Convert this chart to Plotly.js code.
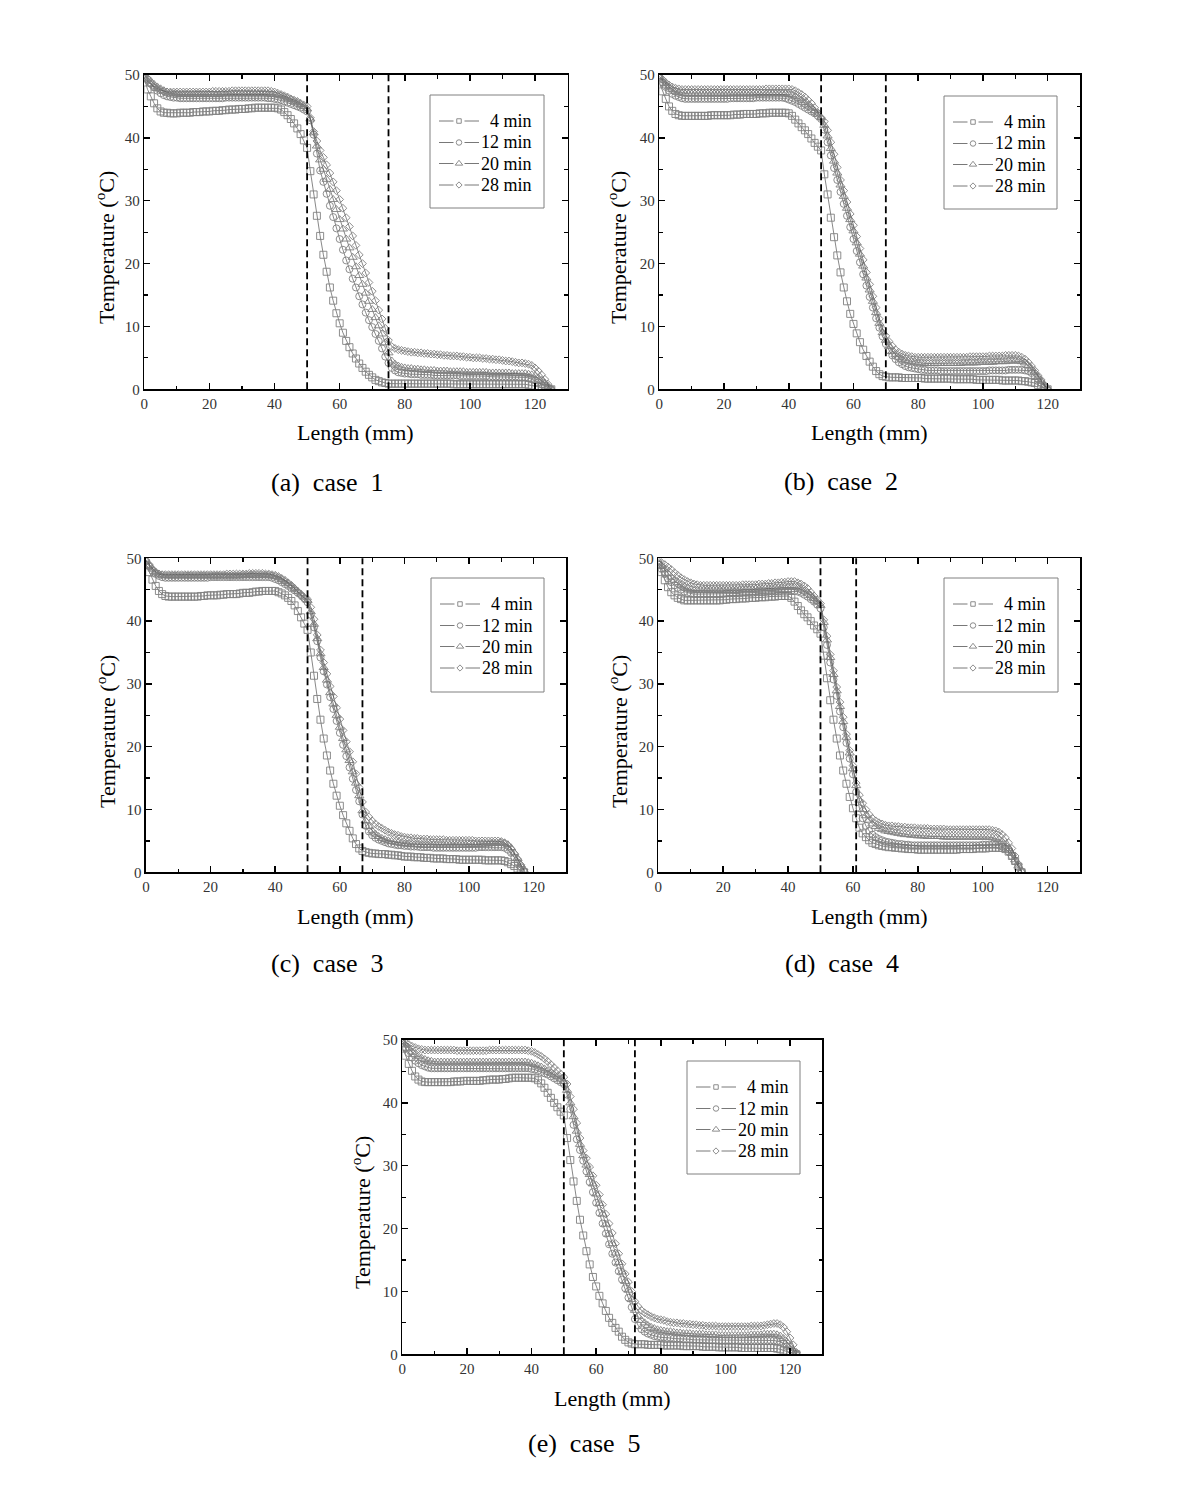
<!DOCTYPE html>
<html><head><meta charset="utf-8">
<script src="https://cdn.plot.ly/plotly-3.0.1.min.js"></script>
<style>html,body{margin:0;padding:0;background:#fff}#chart{width:1202px;height:1493px}</style>
</head><body><div id="chart"></div>
<script>
const seriesNames = ["4 min", "12 min", "20 min", "28 min"];
const captions = ["(a)\u00a0\u00a0case\u00a0\u00a01", "(b)\u00a0\u00a0case\u00a0\u00a02", "(c)\u00a0\u00a0case\u00a0\u00a03", "(d)\u00a0\u00a0case\u00a0\u00a04", "(e)\u00a0\u00a0case\u00a0\u00a05"];
const interfaceLines = [[50, 75], [50, 70], [50, 67], [50, 61], [50, 72]];
const xTitle = "Length (mm)";
const yTitle = "Temperature (<sup>o</sup>C)";

// ---- case 1 (x = 0..125 mm, 1 mm step) ----
const case1_4min = [
49.5,47.7,46.6,45.5,44.7,44.2,44.0,44.0,43.9,43.9,
43.9,44.0,44.0,44.0,44.0,44.1,44.1,44.1,44.2,44.2,
44.2,44.3,44.3,44.3,44.4,44.4,44.5,44.5,44.5,44.6,
44.6,44.6,44.7,44.7,44.8,44.8,44.8,44.8,44.8,44.8,
44.8,44.7,44.5,44.1,43.6,43.0,42.3,41.5,40.6,39.6,
38.4,34.7,31.0,27.6,24.4,21.4,18.7,16.2,14.1,12.1,
10.5,9.0,7.7,6.7,5.7,4.9,4.1,3.4,2.8,2.3,
1.9,1.5,1.3,1.1,1.0,0.9,0.9,0.9,0.9,0.9,
0.9,0.9,0.9,0.9,0.9,0.9,0.9,0.9,0.9,0.9,
0.9,0.9,0.9,0.9,0.9,0.8,0.8,0.8,0.8,0.8,
0.8,0.8,0.8,0.8,0.8,0.8,0.8,0.8,0.8,0.8,
0.8,0.8,0.8,0.8,0.8,0.8,0.8,0.8,0.7,0.6,
0.5,0.4,0.3,0.2,0.1,0.0];
const case1_12min = [
50.0,49.3,48.6,48.0,47.5,47.1,46.8,46.6,46.5,46.4,
46.4,46.3,46.3,46.3,46.3,46.3,46.3,46.3,46.3,46.3,
46.3,46.3,46.3,46.3,46.3,46.4,46.4,46.4,46.4,46.4,
46.4,46.4,46.4,46.4,46.4,46.4,46.4,46.4,46.3,46.3,
46.2,46.1,46.0,45.8,45.6,45.4,45.2,45.0,44.8,44.5,
44.2,42.8,40.5,37.5,34.8,33.0,31.1,29.2,27.4,25.6,
23.9,22.2,20.5,19.1,17.6,16.2,14.8,13.5,12.2,11.0,
9.9,8.8,7.7,6.5,5.2,4.2,3.4,3.0,2.7,2.6,
2.5,2.5,2.4,2.4,2.4,2.3,2.3,2.3,2.3,2.2,
2.2,2.2,2.2,2.2,2.2,2.2,2.2,2.1,2.1,2.1,
2.1,2.1,2.1,2.1,2.1,2.1,2.0,2.0,2.0,2.0,
2.0,2.0,2.0,2.0,2.0,1.9,1.9,1.9,1.8,1.6,
1.4,1.1,0.8,0.5,0.2,0.0];
const case1_20min = [
50.0,49.5,49.0,48.5,48.1,47.8,47.5,47.3,47.1,47.0,
47.0,46.9,46.9,46.9,46.9,46.9,46.9,46.9,46.9,46.9,
46.9,46.9,46.9,46.9,47.0,47.0,47.0,47.0,47.0,47.0,
47.0,47.0,47.0,47.0,47.0,47.0,47.0,47.0,47.0,46.9,
46.9,46.8,46.7,46.5,46.3,46.1,45.8,45.6,45.3,45.0,
44.6,43.0,40.8,38.7,36.5,35.0,33.4,31.8,30.2,28.6,
27.0,25.5,23.9,22.5,21.0,19.5,18.1,16.7,15.3,14.0,
12.7,11.4,10.1,8.8,7.4,5.8,4.5,4.0,3.7,3.5,
3.4,3.3,3.3,3.2,3.2,3.1,3.1,3.0,3.0,3.0,
2.9,2.9,2.9,2.9,2.8,2.8,2.8,2.8,2.8,2.7,
2.7,2.7,2.7,2.7,2.7,2.7,2.6,2.6,2.6,2.6,
2.6,2.6,2.6,2.5,2.5,2.5,2.5,2.5,2.4,2.3,
2.1,1.8,1.4,1.0,0.5,0.0];
const case1_28min = [
49.5,49.0,48.5,48.1,47.8,47.6,47.4,47.3,47.3,47.3,
47.3,47.3,47.3,47.3,47.3,47.3,47.3,47.3,47.3,47.3,
47.3,47.4,47.4,47.4,47.4,47.4,47.4,47.5,47.5,47.5,
47.5,47.5,47.5,47.5,47.5,47.5,47.5,47.5,47.5,47.4,
47.3,47.1,46.9,46.7,46.5,46.2,46.0,45.8,45.5,45.2,
45.0,43.2,41.0,39.5,38.0,36.9,35.7,34.4,33.0,31.6,
30.2,28.8,27.3,25.9,24.4,22.9,21.4,20.0,18.5,17.0,
15.6,14.1,12.6,11.2,9.7,7.8,6.8,6.5,6.3,6.2,
6.1,6.0,5.9,5.9,5.8,5.8,5.7,5.7,5.6,5.6,
5.5,5.5,5.4,5.4,5.3,5.3,5.3,5.2,5.2,5.1,
5.1,5.0,5.0,5.0,4.9,4.9,4.8,4.8,4.7,4.7,
4.6,4.5,4.5,4.4,4.3,4.2,4.2,4.1,4.0,3.8,
3.4,2.9,2.3,1.6,0.8,0.0];

// ---- case 2 (x = 0..120 mm) ----
const case2_4min = [
48.8,47.4,46.2,45.0,44.3,43.8,43.6,43.5,43.5,43.5,
43.5,43.5,43.5,43.5,43.5,43.5,43.6,43.6,43.6,43.6,
43.6,43.6,43.6,43.7,43.7,43.7,43.8,43.8,43.8,43.8,
43.8,43.9,43.9,43.9,44.0,44.0,44.0,44.0,44.0,44.0,
43.9,43.5,42.9,42.3,41.7,41.2,40.6,39.9,39.2,38.6,
38.0,34.2,31.0,27.3,24.2,21.3,18.6,16.2,14.0,12.0,
10.4,8.9,7.5,6.3,5.3,4.4,3.6,2.9,2.4,2.1,
2.0,1.9,1.9,1.9,1.9,1.8,1.8,1.8,1.8,1.8,
1.8,1.8,1.7,1.7,1.7,1.7,1.7,1.7,1.7,1.7,
1.7,1.6,1.6,1.6,1.6,1.6,1.6,1.6,1.5,1.5,
1.5,1.5,1.5,1.5,1.5,1.5,1.4,1.4,1.4,1.4,
1.4,1.4,1.3,1.3,1.2,1.1,1.0,0.7,0.4,0.2,
0.0];
const case2_12min = [
49.5,48.8,48.1,47.5,47.0,46.7,46.5,46.3,46.2,46.2,
46.2,46.2,46.2,46.2,46.2,46.2,46.2,46.2,46.2,46.2,
46.2,46.2,46.3,46.3,46.3,46.3,46.3,46.3,46.3,46.3,
46.4,46.4,46.4,46.4,46.4,46.4,46.4,46.4,46.4,46.3,
46.1,45.9,45.7,45.4,45.1,44.8,44.5,44.2,43.9,43.5,
43.0,41.3,39.3,37.2,35.2,33.3,31.4,29.5,27.6,25.8,
23.9,22.0,20.2,18.3,16.5,14.7,13.0,11.3,9.8,8.4,
7.2,6.2,5.4,4.8,4.3,4.0,3.7,3.5,3.4,3.3,
3.2,3.1,3.1,3.0,3.0,3.0,3.0,2.9,2.9,2.9,
2.9,2.9,2.9,2.9,2.9,2.9,2.9,2.9,2.9,2.9,
2.9,2.9,3.0,3.0,3.0,3.0,3.0,3.0,3.1,3.1,
3.1,3.1,3.1,3.0,2.9,2.6,2.1,1.6,1.0,0.5,
0.0];
const case2_20min = [
49.7,49.1,48.6,48.1,47.7,47.4,47.2,47.1,47.0,47.0,
47.0,47.0,47.0,47.0,47.0,47.0,47.0,47.0,47.0,47.0,
47.0,47.0,47.0,47.0,47.0,47.0,47.0,47.0,47.0,47.0,
47.0,47.0,47.0,47.0,47.0,47.0,47.0,47.0,47.0,47.0,
46.9,46.8,46.6,46.3,46.0,45.6,45.2,44.8,44.3,43.8,
43.2,42.0,40.3,38.3,36.3,34.4,32.5,30.7,28.8,27.0,
25.2,23.3,21.5,19.6,17.7,15.8,14.0,12.2,10.5,9.0,
7.8,6.8,6.0,5.5,5.1,4.8,4.6,4.5,4.4,4.3,
4.2,4.2,4.1,4.1,4.1,4.1,4.1,4.1,4.1,4.1,
4.1,4.1,4.1,4.1,4.2,4.2,4.2,4.2,4.2,4.3,
4.3,4.3,4.3,4.3,4.4,4.4,4.4,4.4,4.5,4.5,
4.5,4.5,4.4,4.2,3.8,3.3,2.7,2.0,1.3,0.6,
0.0];
const case2_28min = [
49.8,49.3,48.8,48.4,48.1,47.9,47.8,47.7,47.7,47.7,
47.7,47.7,47.7,47.7,47.7,47.7,47.7,47.7,47.7,47.7,
47.7,47.7,47.7,47.7,47.7,47.7,47.7,47.7,47.7,47.7,
47.7,47.7,47.7,47.8,47.8,47.8,47.8,47.8,47.8,47.8,
47.8,47.7,47.5,47.2,46.9,46.5,46.0,45.5,44.8,44.0,
43.2,42.6,41.2,39.3,37.4,35.3,33.3,31.6,29.8,27.9,
26.1,24.3,22.4,20.6,18.6,16.7,14.8,13.0,11.2,9.6,
8.5,7.6,6.9,6.3,5.9,5.6,5.4,5.3,5.2,5.1,
5.1,5.1,5.1,5.1,5.1,5.1,5.1,5.1,5.1,5.1,
5.1,5.1,5.1,5.1,5.1,5.1,5.2,5.2,5.2,5.2,
5.2,5.2,5.3,5.3,5.3,5.3,5.3,5.4,5.4,5.4,
5.4,5.3,5.1,4.8,4.3,3.7,3.0,2.2,1.5,0.7,
0.0];

// ---- case 3 (x = 0..117 mm) ----
const case3_4min = [
49.0,47.8,46.6,45.6,44.8,44.3,44.0,43.9,43.9,43.9,
43.9,43.9,43.9,43.9,43.9,43.9,43.9,44.0,44.0,44.1,
44.1,44.1,44.1,44.2,44.2,44.3,44.3,44.3,44.3,44.4,
44.5,44.5,44.5,44.6,44.7,44.7,44.8,44.8,44.8,44.8,
44.8,44.6,44.4,44.1,43.7,43.2,42.5,41.6,40.6,39.6,
38.6,35.0,31.3,27.6,24.3,21.3,18.6,16.2,14.1,12.2,
10.6,9.1,7.8,6.6,5.4,4.5,3.8,3.4,3.2,3.1,
3.0,3.0,2.9,2.9,2.9,2.8,2.8,2.7,2.7,2.6,
2.5,2.5,2.5,2.4,2.4,2.4,2.3,2.3,2.3,2.2,
2.2,2.2,2.2,2.1,2.1,2.1,2.1,2.0,2.0,2.0,
2.0,2.0,2.0,2.0,2.0,1.9,1.9,1.9,1.9,1.9,
1.9,1.8,1.6,1.3,1.0,0.6,0.3,0.0];
const case3_12min = [
49.5,48.7,48.0,47.5,47.2,47.0,46.9,46.9,46.9,46.9,
46.9,46.9,46.9,46.9,46.9,46.9,46.9,46.9,46.9,46.9,
47.0,47.0,47.0,47.0,47.0,47.0,47.0,47.0,47.0,47.0,
47.0,47.0,47.0,47.0,47.0,47.0,47.0,47.0,47.0,46.9,
46.7,46.5,46.2,45.9,45.6,45.2,44.9,44.5,44.1,43.6,
43.0,41.0,39.0,36.8,34.2,32.0,29.9,27.9,26.0,24.1,
22.2,20.3,18.5,16.7,14.9,13.1,11.3,9.2,7.4,6.5,
5.9,5.5,5.2,5.0,4.8,4.6,4.5,4.4,4.3,4.3,
4.2,4.2,4.1,4.1,4.1,4.0,4.0,4.0,4.0,3.9,
3.9,3.9,3.9,3.9,3.9,3.9,3.9,3.9,3.9,3.9,
3.9,3.9,3.9,4.0,4.0,4.0,4.0,4.0,4.0,4.0,
4.0,3.9,3.6,3.1,2.4,1.6,0.8,0.1];
const case3_20min = [
49.6,48.9,48.3,47.8,47.5,47.3,47.2,47.2,47.2,47.2,
47.2,47.2,47.2,47.2,47.2,47.2,47.2,47.2,47.2,47.2,
47.2,47.2,47.2,47.2,47.2,47.2,47.2,47.2,47.2,47.2,
47.3,47.3,47.3,47.3,47.3,47.3,47.3,47.3,47.3,47.2,
47.1,46.9,46.6,46.3,46.0,45.6,45.2,44.7,44.3,43.8,
43.3,41.5,39.5,37.2,34.8,32.6,30.6,28.6,26.8,25.0,
23.1,21.3,19.5,17.8,16.0,14.2,12.2,9.8,8.2,7.3,
6.6,6.1,5.7,5.4,5.2,5.0,4.9,4.8,4.7,4.6,
4.5,4.5,4.4,4.4,4.4,4.3,4.3,4.3,4.3,4.3,
4.3,4.3,4.3,4.3,4.3,4.3,4.3,4.3,4.3,4.3,
4.4,4.4,4.4,4.4,4.5,4.5,4.5,4.6,4.6,4.6,
4.7,4.6,4.4,3.9,3.1,2.2,1.2,0.3];
const case3_28min = [
49.7,49.0,48.3,47.8,47.5,47.4,47.4,47.4,47.4,47.4,
47.4,47.4,47.4,47.4,47.4,47.4,47.4,47.4,47.4,47.4,
47.4,47.4,47.4,47.4,47.4,47.5,47.5,47.5,47.5,47.5,
47.5,47.5,47.6,47.6,47.6,47.6,47.6,47.5,47.5,47.4,
47.3,47.1,46.8,46.5,46.1,45.7,45.2,44.7,44.1,43.6,
43.5,42.2,40.3,37.8,35.4,33.4,31.6,29.6,28.0,26.2,
24.4,22.6,20.8,19.2,17.6,15.7,13.5,11.2,9.6,8.8,
8.2,7.7,7.3,7.0,6.7,6.4,6.2,6.0,5.9,5.7,
5.6,5.5,5.5,5.4,5.4,5.3,5.3,5.3,5.2,5.2,
5.2,5.2,5.2,5.1,5.1,5.1,5.1,5.1,5.1,5.1,
5.1,5.1,5.0,5.0,5.0,5.0,5.0,5.0,5.0,5.0,
4.9,4.7,4.3,3.7,3.0,2.1,1.2,0.4];

// ---- case 4 (x = 0..112 mm) ----
const case4_4min = [
49.0,47.8,46.5,45.4,44.6,44.1,43.7,43.5,43.3,43.3,
43.3,43.3,43.3,43.3,43.3,43.3,43.3,43.3,43.3,43.3,
43.4,43.4,43.5,43.5,43.5,43.6,43.6,43.6,43.7,43.7,
43.7,43.8,43.8,43.8,43.9,43.9,43.9,44.0,44.0,44.0,
44.0,43.7,43.1,42.4,41.7,41.1,40.6,40.0,39.3,38.7,
38.0,34.5,30.9,27.4,24.3,21.3,18.6,16.2,14.1,12.0,
10.2,8.6,7.1,6.2,5.6,5.1,4.7,4.5,4.3,4.2,
4.1,4.0,4.0,3.9,3.9,3.8,3.8,3.7,3.7,3.7,
3.6,3.6,3.6,3.6,3.6,3.6,3.6,3.6,3.6,3.6,
3.6,3.6,3.6,3.7,3.7,3.7,3.7,3.7,3.8,3.8,
3.8,3.8,3.9,3.9,3.9,3.9,3.9,3.7,3.3,2.6,
1.8,0.9,0.0];
const case4_12min = [
49.0,48.3,47.5,46.8,46.2,45.7,45.3,45.0,44.7,44.5,
44.4,44.3,44.3,44.3,44.3,44.3,44.3,44.3,44.3,44.3,
44.3,44.4,44.4,44.4,44.4,44.4,44.5,44.5,44.5,44.5,
44.6,44.6,44.6,44.6,44.7,44.7,44.7,44.7,44.8,44.8,
44.8,44.8,44.8,44.7,44.5,44.2,43.9,43.5,43.1,42.6,
42.0,39.0,36.2,33.4,30.7,28.1,25.6,23.1,20.6,18.1,
15.6,12.8,10.2,8.6,7.4,6.6,6.0,5.6,5.3,5.1,
4.9,4.8,4.7,4.6,4.5,4.5,4.4,4.4,4.3,4.3,
4.3,4.3,4.3,4.3,4.3,4.3,4.3,4.3,4.3,4.3,
4.3,4.3,4.3,4.3,4.3,4.3,4.3,4.3,4.3,4.3,
4.4,4.4,4.4,4.4,4.4,4.3,4.1,3.8,3.3,2.6,
1.8,0.9,0.1];
const case4_20min = [
49.3,48.8,48.2,47.6,47.0,46.5,46.1,45.7,45.4,45.2,
45.0,44.9,44.9,44.9,44.9,44.9,44.9,44.9,44.9,44.9,
44.9,44.9,44.9,44.9,44.9,44.9,45.0,45.0,45.0,45.0,
45.1,45.1,45.1,45.2,45.2,45.2,45.3,45.3,45.3,45.4,
45.4,45.4,45.4,45.3,45.1,44.8,44.5,44.1,43.6,43.1,
42.5,39.8,37.0,34.2,31.5,28.9,26.4,24.0,21.5,19.0,
16.5,13.8,11.5,10.0,9.0,8.3,7.7,7.3,7.0,6.8,
6.6,6.5,6.4,6.3,6.2,6.1,6.0,6.0,5.9,5.9,
5.8,5.8,5.8,5.7,5.7,5.7,5.7,5.7,5.6,5.6,
5.6,5.6,5.6,5.6,5.6,5.6,5.6,5.6,5.6,5.6,
5.6,5.6,5.6,5.5,5.4,5.2,4.9,4.4,3.8,3.0,
2.0,1.0,0.1];
const case4_28min = [
49.6,49.3,49.0,48.6,48.2,47.7,47.3,46.9,46.6,46.3,
46.1,45.9,45.8,45.7,45.7,45.7,45.7,45.7,45.7,45.7,
45.7,45.7,45.7,45.7,45.7,45.7,45.8,45.8,45.8,45.8,
45.8,45.9,45.9,45.9,46.0,46.0,46.1,46.1,46.2,46.2,
46.3,46.3,46.3,46.1,45.9,45.6,45.2,44.6,44.0,43.4,
42.8,40.2,37.6,34.7,32.1,29.5,27.1,24.7,22.0,19.4,
17.0,14.2,12.3,11.0,10.0,9.2,8.6,8.2,7.9,7.7,
7.5,7.4,7.4,7.3,7.3,7.2,7.2,7.1,7.1,7.1,
7.0,7.0,7.0,7.0,6.9,6.9,6.9,6.9,6.9,6.8,
6.8,6.8,6.8,6.8,6.8,6.8,6.8,6.8,6.8,6.8,
6.8,6.8,6.8,6.7,6.6,6.4,6.0,5.5,4.7,3.8,
2.6,1.3,0.2];

// ---- case 5 (x = 0..122 mm) ----
const case5_4min = [
48.8,47.5,46.2,45.1,44.2,43.7,43.4,43.3,43.3,43.3,
43.3,43.3,43.3,43.3,43.3,43.3,43.4,43.4,43.4,43.5,
43.5,43.5,43.5,43.5,43.5,43.6,43.6,43.7,43.7,43.7,
43.7,43.8,43.8,43.9,44.0,44.0,44.0,44.0,44.0,44.0,
44.0,43.9,43.6,43.1,42.4,41.6,40.8,40.0,39.3,38.6,
38.0,34.4,30.9,27.5,24.4,21.4,18.9,16.4,14.3,12.3,
10.8,9.3,8.1,6.9,5.8,5.0,4.2,3.6,2.8,2.3,
1.9,1.7,1.6,1.6,1.6,1.6,1.5,1.5,1.5,1.5,
1.5,1.4,1.4,1.4,1.4,1.4,1.4,1.3,1.3,1.3,
1.3,1.3,1.3,1.2,1.2,1.2,1.2,1.2,1.1,1.1,
1.1,1.1,1.1,1.1,1.1,1.0,1.0,1.0,1.0,1.0,
1.0,1.0,1.0,1.0,1.0,1.0,0.9,0.8,0.6,0.5,
0.3,0.1,0.0];
const case5_12min = [
49.5,48.7,47.9,47.2,46.7,46.3,46.0,45.8,45.6,45.5,
45.5,45.5,45.5,45.5,45.5,45.5,45.5,45.5,45.5,45.5,
45.5,45.5,45.5,45.5,45.5,45.5,45.5,45.5,45.5,45.5,
45.5,45.5,45.5,45.5,45.5,45.5,45.5,45.5,45.5,45.5,
45.4,45.3,45.1,44.9,44.7,44.5,44.2,43.9,43.6,43.3,
43.0,41.3,39.0,36.5,34.2,32.5,30.8,29.1,27.4,25.8,
24.1,22.5,20.8,19.2,17.5,16.0,14.6,13.2,11.9,10.5,
9.0,7.5,5.6,4.6,4.0,3.6,3.3,3.1,2.9,2.8,
2.7,2.7,2.6,2.6,2.5,2.5,2.5,2.4,2.4,2.4,
2.3,2.3,2.3,2.3,2.3,2.2,2.2,2.2,2.2,2.2,
2.2,2.2,2.2,2.2,2.2,2.2,2.2,2.2,2.2,2.2,
2.2,2.2,2.2,2.2,2.2,2.2,2.1,2.0,1.7,1.3,
0.8,0.4,0.0];
const case5_20min = [
49.8,49.2,48.6,48.1,47.7,47.4,47.1,46.9,46.7,46.6,
46.5,46.5,46.5,46.5,46.5,46.5,46.5,46.5,46.5,46.5,
46.5,46.5,46.5,46.5,46.5,46.5,46.5,46.5,46.5,46.5,
46.5,46.5,46.5,46.5,46.5,46.5,46.5,46.5,46.5,46.4,
46.3,46.1,45.9,45.7,45.4,45.1,44.8,44.5,44.2,43.8,
43.4,42.0,40.0,37.8,35.5,33.4,31.6,30.1,28.6,27.1,
25.5,24.0,22.3,20.7,19.1,17.6,16.1,14.6,13.1,11.6,
10.2,8.7,7.0,6.0,5.4,5.0,4.6,4.3,4.1,3.9,
3.8,3.7,3.6,3.6,3.5,3.4,3.4,3.3,3.3,3.3,
3.2,3.2,3.2,3.2,3.1,3.1,3.1,3.1,3.0,3.0,
3.0,3.0,3.0,3.0,3.0,3.0,3.0,3.0,3.1,3.1,
3.1,3.1,3.2,3.2,3.2,3.2,3.1,2.9,2.5,2.0,
1.3,0.6,0.1];
const case5_28min = [
50.0,49.6,49.3,49.0,48.8,48.6,48.5,48.4,48.4,48.4,
48.4,48.4,48.4,48.4,48.4,48.4,48.4,48.3,48.3,48.3,
48.3,48.3,48.3,48.3,48.3,48.3,48.3,48.4,48.4,48.4,
48.4,48.4,48.4,48.4,48.4,48.4,48.4,48.4,48.4,48.3,
48.2,48.0,47.7,47.4,47.0,46.6,46.1,45.6,45.1,44.6,
44.1,43.0,41.0,39.0,36.8,34.4,32.4,31.2,29.8,28.4,
26.9,25.4,23.8,22.3,20.8,19.3,17.6,16.0,14.4,12.8,
11.5,10.0,8.4,7.6,7.0,6.6,6.3,6.0,5.8,5.6,
5.5,5.4,5.2,5.1,5.0,5.0,4.9,4.9,4.8,4.8,
4.7,4.7,4.6,4.6,4.5,4.5,4.5,4.5,4.4,4.4,
4.4,4.4,4.4,4.4,4.4,4.4,4.4,4.4,4.5,4.5,
4.5,4.5,4.6,4.7,4.8,4.9,4.9,4.7,4.3,3.6,
2.6,1.5,0.3];

const cases = [
  [case1_4min, case1_12min, case1_20min, case1_28min],
  [case2_4min, case2_12min, case2_20min, case2_28min],
  [case3_4min, case3_12min, case3_20min, case3_28min],
  [case4_4min, case4_12min, case4_20min, case4_28min],
  [case5_4min, case5_12min, case5_20min, case5_28min]
];

// ---- layout geometry (pixels in the 1202x1493 page) ----
const W = 1202, H = 1493;
const fx = p => p / W, fy = p => 1 - p / H;
const panels = [
  {x0:144.3, x1:567.6, y0:75,    y1:389.3,  box:[430,95,544,208],    yt:[105,248],   xt:[355,433],    cap:[327,482]},
  {x0:659.3, x1:1080,  y0:75,    y1:389.3,  box:[944,96,1057,209],   yt:[617,248],   xt:[869.5,433],  cap:[841,481]},
  {x0:146,   x1:566,   y0:558.3, y1:872.3,  box:[431,578,544,692],   yt:[106,732],   xt:[355.5,916],  cap:[327,963]},
  {x0:658.3, x1:1080,  y0:558.3, y1:872.3,  box:[944,578,1058,692],  yt:[618,732],   xt:[869,916],    cap:[842,963]},
  {x0:402.3, x1:822.3, y0:1040,  y1:1354.3, box:[687,1061,800,1174], yt:[361,1213],  xt:[612.5,1398], cap:[584.5,1443]}
];
const legendRowOffsets = [26, 47.5, 68.5, 90];
const symbols = ["square-open", "circle-open", "triangle-up-open", "diamond-open"];
const msizes = [7, 7, 8, 6];
const legendMsizes = [4.5, 5.5, 6.5, 4.8];
const FONT = "Liberation Serif, Times New Roman, serif";
const MARKER_GRAY = "#808080", LINE_GRAY = "#555";

const traces = [];
const layout = {
  width: W, height: H, margin: {l:0, r:0, t:0, b:0},
  paper_bgcolor: "#fff", plot_bgcolor: "rgba(0,0,0,0)",
  font: {family: FONT, color: "#000"}, showlegend: false,
  shapes: [], annotations: [],
  // full-page overlay axes (pixel units) used for the legend keys
  xaxis6: {domain: [0, 1], range: [0, W], visible: false, fixedrange: true},
  yaxis6: {domain: [0, 1], range: [H, 0], visible: false, fixedrange: true}
};

panels.forEach((p, i) => {
  const n = i + 1;
  const xa = n === 1 ? "x" : "x" + n, ya = n === 1 ? "y" : "y" + n;
  const xk = n === 1 ? "xaxis" : "xaxis" + n, yk = n === 1 ? "yaxis" : "yaxis" + n;
  cases[i].forEach((vals, s) => {
    traces.push({
      type: "scatter", mode: "lines+markers",
      x: vals.map((_, k) => k), y: vals,
      xaxis: xa, yaxis: ya, name: seriesNames[s],
      line: {color: LINE_GRAY, width: 0.7},
      marker: {symbol: symbols[s], size: msizes[s], color: MARKER_GRAY, line: {width: 0.9, color: MARKER_GRAY}}
    });
  });
  const axCommon = {
    showline: true, linecolor: "#000", linewidth: 1.6, mirror: "allticks",
    ticks: "inside", ticklen: 6, tickwidth: 1.5, tickcolor: "#000",
    showgrid: false, zeroline: false, fixedrange: true,
    tickfont: {family: FONT, size: 15, color: "#333"}
  };
  layout[xk] = Object.assign({}, axCommon, {
    domain: [fx(p.x0), fx(p.x1)], anchor: ya, range: [0, 130], tick0: 0, dtick: 20,
    minor: {dtick: 10, ticks: "inside", ticklen: 3.5, tickwidth: 1.2, tickcolor: "#000"}
  });
  layout[yk] = Object.assign({}, axCommon, {
    domain: [fy(p.y1), fy(p.y0)], anchor: xa, range: [0, 50], tick0: 0, dtick: 10,
    minor: {dtick: 5, ticks: "inside", ticklen: 3.5, tickwidth: 1.2, tickcolor: "#000"}
  });
  interfaceLines[i].forEach(xv => {
    layout.shapes.push({type: "line", xref: xa, yref: ya + " domain", x0: xv, x1: xv, y0: 0, y1: 1,
      line: {color: "#000", width: 1.8, dash: "7px,4px"}});
  });
  // legend box + keys + labels
  const [bx0, by0, bx1, by1] = p.box;
  layout.shapes.push({type: "rect", xref: "paper", yref: "paper",
    x0: fx(bx0), x1: fx(bx1), y0: fy(by1), y1: fy(by0),
    line: {color: "#808080", width: 1}});
  seriesNames.forEach((nm, s) => {
    const yy = by0 + legendRowOffsets[s];
    const lx0 = bx0 + 9, lx1 = bx0 + 49, cx = bx0 + 29;
    traces.push({type: "scatter", mode: "lines", xaxis: "x6", yaxis: "y6", hoverinfo: "skip",
      x: [lx0, cx - 5.5, null, cx + 5.5, lx1], y: [yy, yy, null, yy, yy],
      line: {color: LINE_GRAY, width: 0.8}, showlegend: false});
    traces.push({type: "scatter", mode: "markers", xaxis: "x6", yaxis: "y6", hoverinfo: "skip",
      x: [cx], y: [yy], showlegend: false,
      marker: {symbol: symbols[s], size: legendMsizes[s], color: MARKER_GRAY, line: {width: 0.9, color: MARKER_GRAY}}});
    layout.annotations.push({xref: "paper", yref: "paper", x: fx(bx0 + 104), y: fy(yy),
      text: nm, showarrow: false, xanchor: "right", yanchor: "middle",
      font: {family: FONT, size: 18, color: "#000"}});
  });
  layout.annotations.push({xref: "paper", yref: "paper", x: fx(p.yt[0]), y: fy(p.yt[1]),
    text: yTitle, textangle: -90, showarrow: false, xanchor: "center", yanchor: "middle",
    font: {family: FONT, size: 22, color: "#000"}});
  layout.annotations.push({xref: "paper", yref: "paper", x: fx(p.xt[0]), y: fy(p.xt[1]),
    text: xTitle, showarrow: false, xanchor: "center", yanchor: "middle",
    font: {family: FONT, size: 22, color: "#000"}});
  layout.annotations.push({xref: "paper", yref: "paper", x: fx(p.cap[0]), y: fy(p.cap[1]),
    text: captions[i], showarrow: false, xanchor: "center", yanchor: "middle",
    font: {family: FONT, size: 26, color: "#000"}});
});

Plotly.newPlot("chart", traces, layout, {displayModeBar: false, staticPlot: true});
</script>
</body></html>
